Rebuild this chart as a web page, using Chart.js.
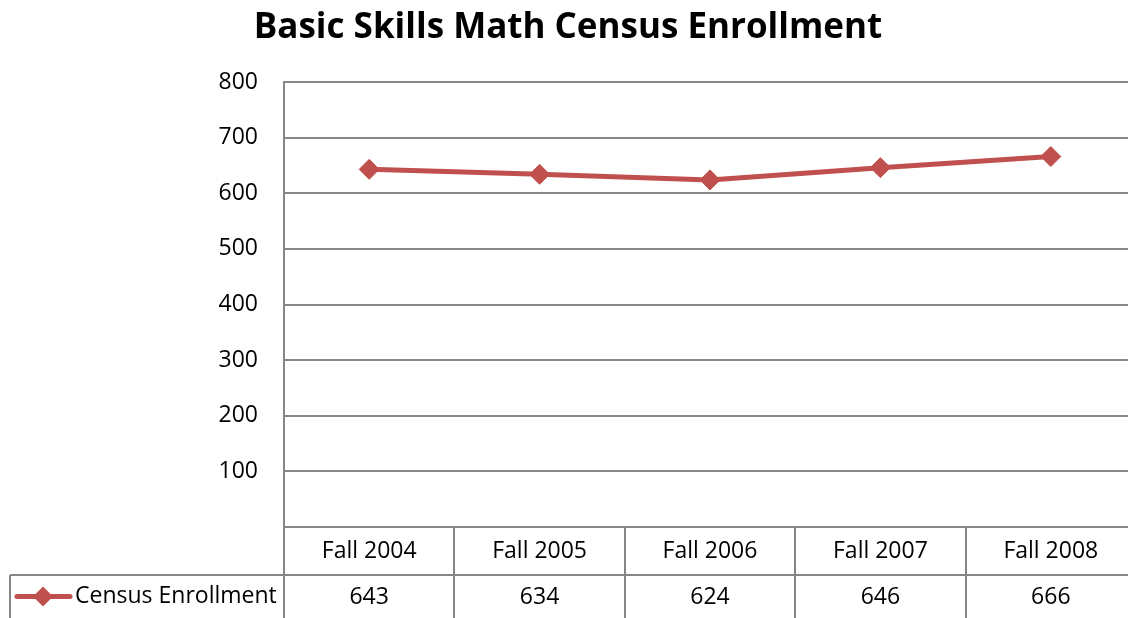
<!DOCTYPE html>
<html>
<head>
<meta charset="utf-8">
<script src="https://cdn.jsdelivr.net/npm/chart.js@4/dist/chart.umd.min.js"></script>
<style>
  html, body { margin: 0; padding: 0; background: #fff; overflow: hidden; }
  #enrollChart { display: block; }
</style>
</head>
<body>
<canvas id="enrollChart" width="1136" height="618"></canvas>
<script>
// chart data
const terms = ['Fall 2004', 'Fall 2005', 'Fall 2006', 'Fall 2007', 'Fall 2008'];
const enrollment = [643, 634, 624, 646, 666];
const seriesName = 'Census Enrollment';
const yTicks = [0, 100, 200, 300, 400, 500, 600, 700, 800];

const FONT = "'Open Sans', sans-serif";
const RED = '#C0504D';
const GRID = '#868686';

// data table under the plot (like the excel one)
const dataTable = {
  id: 'dataTable',
  afterDraw(chart) {
    const ctx = chart.ctx;
    const area = chart.chartArea;
    const x = chart.scales.x;
    const bottom = chart.height;
    const rowLine = 575;
    ctx.save();
    ctx.strokeStyle = GRID;
    ctx.lineWidth = 2;
    // row divider, runs into legend cell
    ctx.beginPath();
    ctx.moveTo(10, rowLine);
    ctx.lineTo(chart.width, rowLine);
    ctx.stroke();
    // legend cell left edge
    ctx.beginPath();
    ctx.moveTo(10, rowLine);
    ctx.lineTo(10, bottom);
    ctx.stroke();
    // y axis line down to the bottom
    ctx.beginPath();
    ctx.moveTo(area.left, area.top);
    ctx.lineTo(area.left, bottom);
    ctx.stroke();

    ctx.fillStyle = '#000';
    ctx.font = '23px ' + FONT;
    ctx.textAlign = 'center';
    ctx.textBaseline = 'middle';
    terms.forEach((t, i) => {
      const px = x.getPixelForValue(i);
      ctx.fillText(t, px, (area.bottom + rowLine) / 2);
      ctx.fillText(String(enrollment[i]), px, (rowLine + bottom) / 2 + 1);
    });

    // legend key
    const ly = (rowLine + bottom) / 2;
    ctx.strokeStyle = RED;
    ctx.lineWidth = 5;
    ctx.lineCap = 'round';
    ctx.beginPath();
    ctx.moveTo(17, ly);
    ctx.lineTo(70, ly);
    ctx.stroke();
    ctx.fillStyle = RED;
    ctx.beginPath();
    ctx.moveTo(43, ly - 10);
    ctx.lineTo(53, ly);
    ctx.lineTo(43, ly + 10);
    ctx.lineTo(33, ly);
    ctx.closePath();
    ctx.fill();
    ctx.fillStyle = '#000';
    ctx.textAlign = 'left';
    ctx.fillText(seriesName, 75, ly);
    ctx.restore();
  }
};

const ctx = document.getElementById('enrollChart').getContext('2d');
const enrollChart = new Chart(ctx, {
  type: 'line',
  data: {
    labels: terms,
    datasets: [{
      label: seriesName,
      data: enrollment,
      borderColor: RED,
      backgroundColor: RED,
      borderWidth: 5,
      pointStyle: 'rectRot',
      pointRadius: 10,
      pointBorderWidth: 1,
      tension: 0
    }]
  },
  options: {
    responsive: false,
    animation: false,
    layout: { autoPadding: false, padding: 0 },
    plugins: {
      legend: { display: false },
      tooltip: { enabled: false },
      title: {
        display: true,
        text: 'Basic Skills Math Census Enrollment',
        color: '#000',
        font: { family: FONT, size: 35, weight: 'bold', lineHeight: 1.2 },
        padding: { top: 7, bottom: 33 }
      }
    },
    scales: {
      x: {
        offset: true,
        grid: {
          offset: true,
          drawOnChartArea: false,
          drawTicks: true,
          tickLength: 91,
          color: GRID,
          lineWidth: 2
        },
        border: { display: true, color: GRID, width: 2 },
        ticks: { display: false },
        afterFit: s => { s.height = 91; }
      },
      y: {
        min: 0,
        max: 800,
        afterBuildTicks: s => { s.ticks = yTicks.map(v => ({ value: v })); },
        grid: { color: GRID, lineWidth: 2, drawTicks: false },
        border: { display: true, color: GRID, width: 2 },
        ticks: {
          color: '#000',
          padding: 26,
          font: { family: FONT, size: 23 },
          callback: v => (v === 0 ? '' : v)
        },
        afterFit: s => { s.width = 284; }
      }
    }
  },
  plugins: [dataTable]
});
</script>
</body>
</html>
